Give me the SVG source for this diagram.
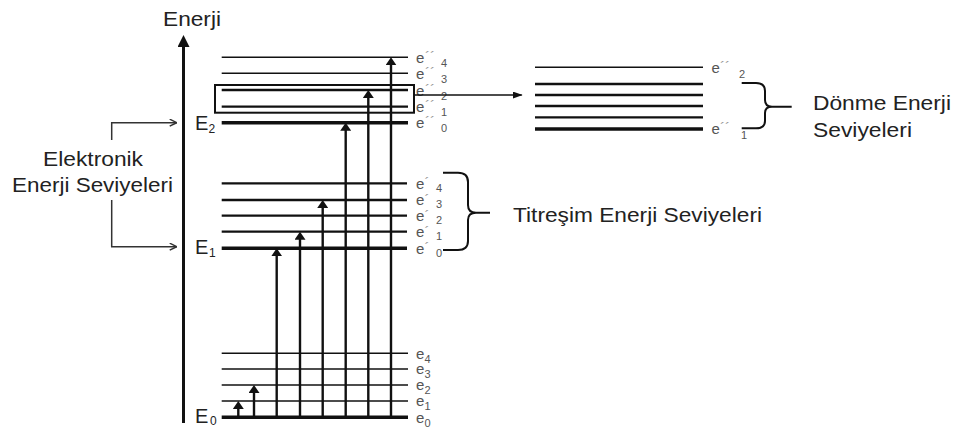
<svg xmlns="http://www.w3.org/2000/svg" width="955" height="433" viewBox="0 0 955 433">
<defs>
<style>
.lvl{stroke:#111;stroke-width:1.6;fill:none}
.lvm{stroke:#111;stroke-width:2.3;fill:none}
.lvb{stroke:#111;stroke-width:3.4;fill:none}
.arr{stroke:#111;stroke-width:2.4;fill:none}
.con{stroke:#333;stroke-width:1.5;fill:none}
.lbl{font-family:"Liberation Sans",Arial,sans-serif;font-size:21px;fill:#222}
.big{font-family:"Liberation Sans",Arial,sans-serif;font-size:20px;fill:#222}
.sub{font-family:"Liberation Sans",Arial,sans-serif;font-size:12px;fill:#222}
.e{font-family:"Liberation Sans",Arial,sans-serif;font-size:15px;fill:#555}
.es{font-family:"Liberation Sans",Arial,sans-serif;font-size:11px;fill:#555}
.pr{font-family:"Liberation Sans",Arial,sans-serif;font-size:15px;fill:#999}
.br{stroke:#111;stroke-width:2;fill:none}
</style>
<marker id="ah" viewBox="0 0 8 11" refX="4" refY="5.5" markerWidth="8" markerHeight="11" orient="auto" markerUnits="userSpaceOnUse"><path d="M0,0 L8,5.5 L0,11 z" fill="#111"/></marker>
<marker id="ahs" viewBox="0 0 10 7" refX="9" refY="3.5" markerWidth="10" markerHeight="7" orient="auto" markerUnits="userSpaceOnUse"><path d="M0,0 L10,3.5 L0,7 z" fill="#111"/></marker>
<marker id="ao" viewBox="0 0 8 8" refX="7.5" refY="4" markerWidth="8" markerHeight="8" orient="auto" markerUnits="userSpaceOnUse"><path d="M0.5,0.5 L7.5,4 L0.5,7.5" fill="none" stroke="#333" stroke-width="1.5"/></marker>
<marker id="axh" viewBox="0 0 12 12" refX="2" refY="6" markerWidth="12" markerHeight="12" orient="auto" markerUnits="userSpaceOnUse"><path d="M0,0 L12,6 L0,12 z" fill="#111"/></marker>
</defs>
<rect width="955" height="433" fill="#fff"/>

<g id="axis">
<line x1="183.5" y1="423" x2="183.5" y2="45" stroke="#111" stroke-width="3" marker-end="url(#axh)"/>
<text class="lbl" x="163" y="26" textLength="58" lengthAdjust="spacingAndGlyphs">Enerji</text>
</g>

<g id="electronic-label">
<text class="lbl" x="93" y="166" text-anchor="middle" textLength="100" lengthAdjust="spacingAndGlyphs">Elektronik</text>
<text class="lbl" x="92.5" y="192" text-anchor="middle" textLength="161" lengthAdjust="spacingAndGlyphs">Enerji Seviyeleri</text>
</g>

<g id="E2">
<line class="lvl" x1="221.7" y1="57.3" x2="408" y2="57.3"/>
<line class="lvl" x1="221.7" y1="73.3" x2="408" y2="73.3"/>
<line class="lvm" x1="221.7" y1="90" x2="408" y2="90"/>
<line class="lvm" x1="221.7" y1="106.7" x2="408" y2="106.7"/>
<line class="lvb" x1="221.7" y1="122.7" x2="408" y2="122.7"/>
<rect x="215" y="85" width="199" height="27.7" fill="none" stroke="#111" stroke-width="2"/>
<text class="big" x="195" y="130">E</text><text class="sub" x="208.5" y="133">2</text>
<text class="e" x="416" y="63">e</text><text class="pr" x="425" y="62">´´</text><text class="es" x="441" y="67">4</text>
<text class="e" x="416" y="79">e</text><text class="pr" x="425" y="78">´´</text><text class="es" x="441" y="83">3</text>
<text class="e" x="416" y="95.5">e</text><text class="pr" x="425" y="94.5">´´</text><text class="es" x="441" y="99.5">2</text>
<text class="e" x="416" y="112">e</text><text class="pr" x="425" y="111">´´</text><text class="es" x="441" y="116">1</text>
<text class="e" x="416" y="128">e</text><text class="pr" x="425" y="127">´´</text><text class="es" x="441" y="132">0</text>
</g>

<g id="E1">
<line class="lvm" x1="221.7" y1="183.3" x2="407" y2="183.3"/>
<line class="lvm" x1="221.7" y1="200" x2="407" y2="200"/>
<line class="lvm" x1="221.7" y1="215.7" x2="407" y2="215.7"/>
<line class="lvm" x1="221.7" y1="231.7" x2="407" y2="231.7"/>
<line class="lvb" x1="221.7" y1="248.3" x2="407" y2="248.3"/>
<text class="big" x="195" y="254">E</text><text class="sub" x="209" y="257">1</text>
<text class="e" x="416" y="188.5">e</text><text class="pr" x="424.5" y="188">´</text><text class="es" x="436" y="191.5">4</text>
<text class="e" x="416" y="205">e</text><text class="pr" x="424.5" y="204.5">´</text><text class="es" x="436" y="208">3</text>
<text class="e" x="416" y="221">e</text><text class="pr" x="424.5" y="220.5">´</text><text class="es" x="436" y="224">2</text>
<text class="e" x="416" y="237">e</text><text class="pr" x="424.5" y="236.5">´</text><text class="es" x="436" y="240">1</text>
<text class="e" x="416" y="253.5">e</text><text class="pr" x="424.5" y="253">´</text><text class="es" x="436" y="256.5">0</text>
</g>

<g id="E0">
<line class="lvl" x1="221.7" y1="353.3" x2="408" y2="353.3"/>
<line class="lvl" x1="221.7" y1="369" x2="408" y2="369"/>
<line class="lvl" x1="221.7" y1="385" x2="408" y2="385"/>
<line class="lvl" x1="221.7" y1="401" x2="408" y2="401"/>
<line class="lvb" x1="221.7" y1="417.3" x2="408" y2="417.3"/>
<text class="big" x="195" y="423">E</text><text class="sub" x="210" y="425">0</text>
<text class="e" x="416" y="358.5">e</text><text class="es" x="424.5" y="362.5">4</text>
<text class="e" x="416" y="374">e</text><text class="es" x="424.5" y="378">3</text>
<text class="e" x="416" y="390">e</text><text class="es" x="424.5" y="394">2</text>
<text class="e" x="416" y="406">e</text><text class="es" x="424.5" y="410">1</text>
<text class="e" x="416" y="422.5">e</text><text class="es" x="424.5" y="426.5">0</text>
</g>

<g id="rotational">
<line class="lvl" x1="535" y1="67.3" x2="703" y2="67.3"/>
<line class="lvm" x1="535" y1="84" x2="703" y2="84"/>
<line class="lvm" x1="535" y1="95" x2="703" y2="95"/>
<line class="lvm" x1="535" y1="106" x2="703" y2="106"/>
<line class="lvm" x1="535" y1="117.3" x2="703" y2="117.3"/>
<line class="lvb" x1="535" y1="129" x2="703" y2="129"/>
<text class="e" x="711.5" y="73">e</text><text class="pr" x="720" y="72">´´</text><text class="es" x="739" y="78">2</text>
<text class="e" x="711.5" y="134">e</text><text class="pr" x="720" y="133">´´</text><text class="es" x="741" y="139">1</text>
</g>

<g id="vib-bracket">
<path class="br" d="M443,172.7 L458,172.7 Q468,172.7 468,182 L468,205 Q468,212.7 476,212.7 L490,212.7 M476,212.7 Q468,212.7 468,220 L468,241 Q468,250 458,250 L443,250"/>
<text class="lbl" x="513" y="222" textLength="249" lengthAdjust="spacingAndGlyphs">Titreşim Enerji Seviyeleri</text>
</g>

<g id="rot-bracket">
<path class="br" d="M741.7,83 L756,83 Q765,83 765,91 L765,100 Q765,106.7 772,106.7 L791.7,106.7 M772,106.7 Q765,106.7 765,113 L765,121 Q765,128.3 756,128.3 L741.7,128.3"/>
<text class="lbl" x="813" y="110" textLength="138" lengthAdjust="spacingAndGlyphs">Dönme Enerji</text>
<text class="lbl" x="813" y="137" textLength="99" lengthAdjust="spacingAndGlyphs">Seviyeleri</text>
</g>

<g id="connectors">
<path class="con" d="M111.7,140 L111.7,122.7 L176.7,122.7" marker-end="url(#ao)"/>
<path class="con" d="M111.7,200 L111.7,246.7 L176.7,246.7" marker-end="url(#ao)"/>
<line x1="414" y1="95" x2="521.7" y2="95" stroke="#111" stroke-width="1.6" marker-end="url(#ahs)"/>
<line class="arr" x1="238.3" y1="417" x2="238.3" y2="405" marker-end="url(#ah)"/>
<line class="arr" x1="254" y1="417" x2="254" y2="389" marker-end="url(#ah)"/>
<line class="arr" x1="276.7" y1="417" x2="276.7" y2="252.3" marker-end="url(#ah)"/>
<line class="arr" x1="300" y1="417" x2="300" y2="235.7" marker-end="url(#ah)"/>
<line class="arr" x1="322.7" y1="417" x2="322.7" y2="204" marker-end="url(#ah)"/>
<line class="arr" x1="345.7" y1="417" x2="345.7" y2="126.7" marker-end="url(#ah)"/>
<line class="arr" x1="368.3" y1="417" x2="368.3" y2="94" marker-end="url(#ah)"/>
<line class="arr" x1="391" y1="417" x2="391" y2="61.3" marker-end="url(#ah)"/>
</g>
</svg>
